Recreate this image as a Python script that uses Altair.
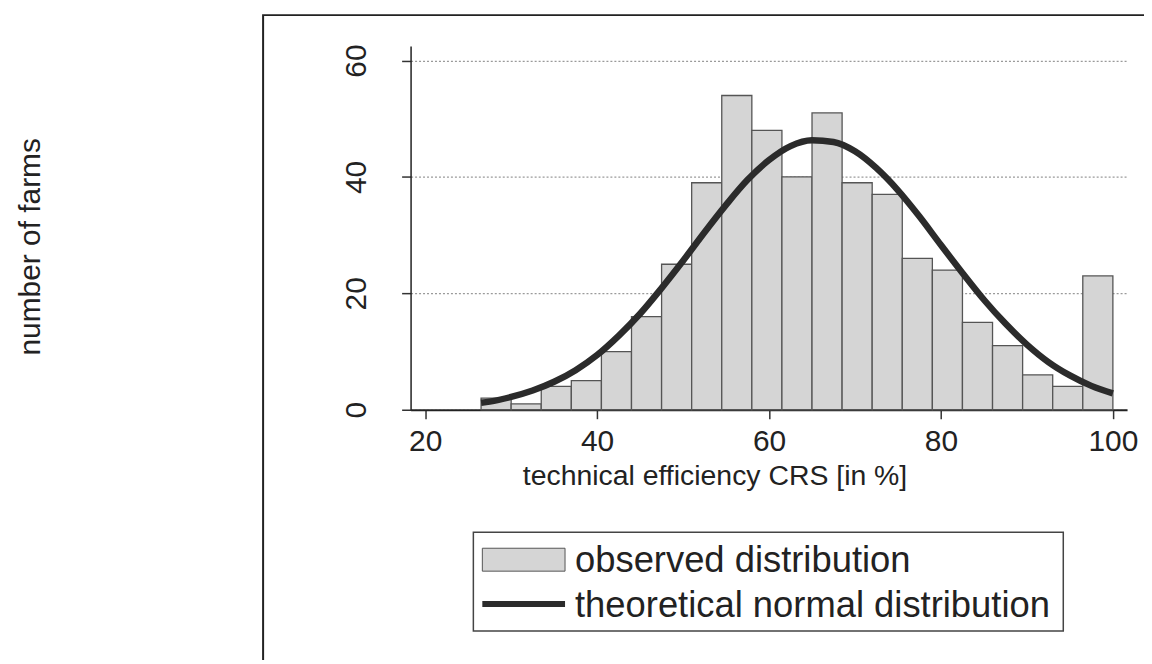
import altair as alt
import pandas as pd

# ---- data ----
bin_start = [26.5, 30.0, 33.5, 37.0, 40.5, 44.0, 47.5, 51.0, 54.5, 58.0, 61.5,
             65.0, 68.5, 72.0, 75.5, 79.0, 82.5, 86.0, 89.5, 93.0, 96.5]
bin_end = [30.0, 33.5, 37.0, 40.5, 44.0, 47.5, 51.0, 54.5, 58.0, 61.5, 65.0,
           68.5, 72.0, 75.5, 79.0, 82.5, 86.0, 89.5, 93.0, 96.5, 100.0]
counts = [2, 1, 4, 5, 10, 16, 25, 39, 54, 48, 40, 51, 39, 37, 26, 24, 15, 11, 6, 4, 23]

curve_x = [26.5, 27.5, 30, 32.5, 35, 37.5, 40, 42.5, 45, 47.5, 50, 52.5, 55, 57.5, 60,
           62.5, 65, 67.5, 70, 72.5, 75, 77.5, 80, 82.5, 85, 87.5, 90, 92.5, 95, 97.5, 100]
curve_y = [1.2, 1.4, 2.2, 3.3, 4.8, 6.8, 9.4, 12.7, 16.5, 20.9, 25.6, 30.5, 35.2, 39.5, 42.9,
           45.3, 46.3, 46.0, 44.4, 41.5, 37.7, 33.2, 28.3, 23.5, 18.9, 14.8, 11.2, 8.2, 5.9,
           4.1, 2.8]

x_ticks = [20, 40, 60, 80, 100]
y_ticks = [0, 20, 40, 60]
legend_labels = ["observed distribution", "theoretical normal distribution"]
x_title = "technical efficiency CRS [in %]"
y_title = "number of farms"

FONT = "Liberation Sans"
TXT = "#222222"
BAR_FILL = "#d5d5d5"
BAR_STROKE = "#555555"
LINE_COL = "#2b2b2b"

# plot area origin on the page: (412, 45)
OX, OY = 412, 45
W, H = 719, 365

bars_df = pd.DataFrame({"start": bin_start, "end": bin_end, "count": counts})
curve_df = pd.DataFrame({"x": curve_x, "y": curve_y})
one = pd.DataFrame({"k": [0]})

xscale = alt.Scale(domain=[18.3, 101.65], nice=False, zero=False)
yscale = alt.Scale(domain=[0, 62.5], nice=False)

xaxis = alt.Axis(values=x_ticks, title=x_title, grid=False,
                 labelFontSize=30, labelFont=FONT, labelColor=TXT, labelPadding=8,
                 tickSize=9, tickColor="#333", tickWidth=1.5,
                 domainColor="#222", domainWidth=2,
                 titleFontSize=28.5, titleFont=FONT, titleColor=TXT, titleFontWeight="normal",
                 titleX=305, titleY=75, titleAlign="center", titleBaseline="alphabetic")
yaxis = alt.Axis(values=y_ticks, title=y_title, grid=True, gridColor="#9a9a9a",
                 gridDash=[2, 2], gridWidth=1.2,
                 labelFontSize=30, labelFont=FONT, labelColor=TXT, labelAngle=270,
                 labelAlign="center", labelBaseline="alphabetic", labelPadding=36,
                 tickSize=9, tickColor="#333", tickWidth=1.5,
                 domainColor="#222", domainWidth=1.5,
                 titleFontSize=30, titleFont=FONT, titleColor=TXT, titleFontWeight="normal",
                 titleAngle=270, titleX=40 - OX, titleY=246 - OY, titleAlign="center",
                 titleBaseline="alphabetic")

frame = alt.Chart(one).mark_rect(fillOpacity=0, stroke="#222", strokeWidth=2).encode(
    x=alt.value(264 - OX), x2=alt.value(1175 - OX),
    y=alt.value(14 - OY), y2=alt.value(700 - OY))

bars = alt.Chart(bars_df).mark_rect(fill=BAR_FILL, stroke=BAR_STROKE, strokeWidth=1.3).encode(
    x=alt.X("start:Q", scale=xscale, axis=xaxis),
    x2="end:Q",
    y=alt.Y("count:Q", scale=yscale, axis=yaxis),
    y2=alt.datum(0))

curve = alt.Chart(curve_df).mark_line(color=LINE_COL, strokeWidth=6.5,
                                      interpolate="monotone", strokeCap="butt").encode(
    x=alt.X("x:Q", scale=xscale), y=alt.Y("y:Q", scale=yscale))

leg_box = alt.Chart(one).mark_rect(fillOpacity=0, stroke="#444", strokeWidth=1.5).encode(
    x=alt.value(475 - OX), x2=alt.value(1067 - OX),
    y=alt.value(533 - OY), y2=alt.value(632 - OY))
leg_sw = alt.Chart(one).mark_rect(fill=BAR_FILL, stroke=BAR_STROKE, strokeWidth=1).encode(
    x=alt.value(484 - OX), x2=alt.value(567 - OX),
    y=alt.value(549 - OY), y2=alt.value(572 - OY))
leg_line = alt.Chart(one).mark_rule(color=LINE_COL, strokeWidth=6).encode(
    x=alt.value(484 - OX), x2=alt.value(567 - OX), y=alt.value(605 - OY))
leg_t1 = alt.Chart(one).mark_text(align="left", baseline="alphabetic", fontSize=36.5,
                                  font=FONT, color=TXT).encode(
    x=alt.value(577 - OX), y=alt.value(573 - OY), text=alt.value(legend_labels[0]))
leg_t2 = alt.Chart(one).mark_text(align="left", baseline="alphabetic", fontSize=36.5,
                                  font=FONT, color=TXT).encode(
    x=alt.value(577 - OX), y=alt.value(618 - OY), text=alt.value(legend_labels[1]))

chart = alt.layer(frame, bars, curve, leg_box, leg_sw, leg_line, leg_t1, leg_t2).properties(
    width=W, height=H,
    autosize=alt.AutoSizeParams(type="none"),
    padding={"left": OX - 8, "top": OY - 8, "right": 1144 - (OX - 8) - W - 4, "bottom": 656 - (OY - 8) - H - 4},
    background="white",
).configure_view(stroke=None)

chart.save("out.html", embed_options={"renderer": "svg", "actions": False})
